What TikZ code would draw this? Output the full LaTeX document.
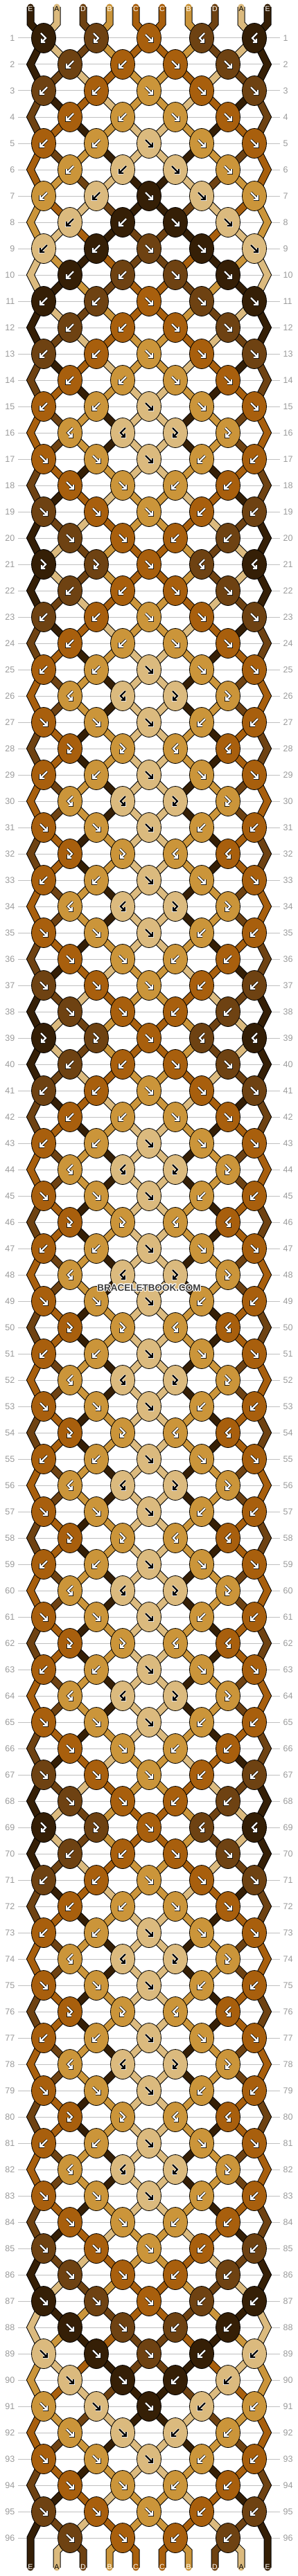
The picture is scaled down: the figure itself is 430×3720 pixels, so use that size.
\documentclass[tikz,border=0pt]{standalone}
\usepackage{fontspec}
\newfontfamily\labelfont{Liberation Sans}
\usepackage[copies]{contour}
\usetikzlibrary{shapes.geometric}

\pgfdeclarelayer{grid}
\pgfdeclarelayer{strands}
\pgfdeclarelayer{marks}
\pgfsetlayers{grid,strands,main,marks}

\definecolor{colA}{HTML}{DBBA7E}
\definecolor{colB}{HTML}{CB953A}
\definecolor{colC}{HTML}{A85F0D}
\definecolor{colD}{HTML}{6E4212}
\definecolor{colE}{HTML}{351F06}
\definecolor{rulegray}{HTML}{C0C0C0}
\definecolor{numgray}{HTML}{9A9A9A}
\definecolor{wmgray}{HTML}{3C3C3C}
\colorlet{labA}{black}\colorlet{outA}{white}
\colorlet{labB}{white}\colorlet{outB}{black}
\colorlet{labC}{white}\colorlet{outC}{black}
\colorlet{labD}{white}\colorlet{outD}{black}
\colorlet{labE}{white}\colorlet{outE}{black}
\contourlength{1pt}

\tikzset{
  knot/.style = {ellipse, draw=black, line width=0.8pt, inner sep=0pt,
    minimum width=35pt, minimum height=43pt},
  strand/.style = {line width=9pt, line cap=round, line join=miter,
    preaction={draw=black, line width=11pt}},
  knotarrow/.style 2 args = {draw=#1, line width=2.2pt, line join=miter,
    preaction={draw=#2, line width=3.8pt}},
  rowline/.style = {draw=rulegray, line width=1pt},
  rownum/.style = {text=numgray, inner sep=0pt,
    font=\labelfont\fontsize{12.5}{15}\selectfont},
  endlabel/.style = {inner sep=0pt, font=\labelfont\fontsize{10.5}{12}\selectfont},
  watermark/.style = {text=wmgray, inner sep=0pt,
    font=\labelfont\bfseries\fontsize{13.5}{16}\selectfont}
}

% knot rows: f, b, fb, bf
\def\rowP{fb,fb,f,bf,bf}
\def\rowQ{b,b,f,f}
\def\rowR{b,b,f,f,f}
\def\rowS{bf,bf,fb,fb}
\def\rowT{f,f,f,b,b}
\def\rowU{f,f,b,b}
\def\rowV{fb,fb,bf,bf}

\newcommand\knotswap{%
  \expandafter\xdef\csname new\lft\endcsname{\cright}%
  \expandafter\xdef\csname new\rgt\endcsname{\cleft}}
\newcommand\kntf{\let\kc\cleft\knotswap
  \def\glyph{(-5,-5) -- (5,5) (-1,5) -- (5,5) -- (5,-1)}}
\newcommand\kntb{\let\kc\cright\knotswap
  \def\glyph{(5,-5) -- (-5,5) (1,5) -- (-5,5) -- (-5,-1)}}
\newcommand\kntfb{\let\kc\cleft
  \def\glyph{(-4,-7) -- (3,0) -- (-3,6) (2,6) -- (-3,6) -- (-3,1)}}
\newcommand\kntbf{\let\kc\cright
  \def\glyph{(4,-7) -- (-3,0) -- (3,6) (-2,6) -- (3,6) -- (3,1)}}

% name of the point where string position #3 sits in row #2
\newcommand\setpt[3]{%
  \pgfmathtruncatemacro\ptodd{mod(#2,2)}%
  \ifnum\ptodd=1
    \pgfmathtruncatemacro\ptj{(#3+1)/2}\edef#1{k-#2-\ptj}%
  \else
    \ifnum#3=1 \edef#1{e-#2-1}%
    \else\ifnum#3=10 \edef#1{e-#2-10}%
    \else\pgfmathtruncatemacro\ptj{#3/2}\edef#1{k-#2-\ptj}%
    \fi\fi
  \fi}

\begin{document}
\begin{tikzpicture}[x=1pt, y=-1pt]
\useasboundingbox (0,0) rectangle (430,3720);

\foreach \s [count=\q] in {E,A,D,B,C,C,B,D,A,E}{
  \expandafter\xdef\csname pos\q\endcsname{\s}
  \pgfmathsetmacro{\xx}{44+38*(\q-1)}
  \coordinate (t-\q) at (\xx,10);
  \coordinate (tb-\q) at (\xx,34);
  \coordinate (bb-\q) at (\xx,3684);
  \coordinate (b-\q) at (\xx,3708);
  \node[endlabel, text=lab\s] (lt-\q) at (\xx,12.5) {\s};
  \node[endlabel, text=lab\s] (lb-\q) at (\xx,3707) {\s};
}

\foreach \rt [count=\rw] in {P,Q,R,Q,R,Q,R,Q,R,Q,R,Q,R,Q,R, % 1-15
    S,T,U,T,U, P,Q,R,Q,R,                                    % 16-25
    S,T,V,R,S,T,V,R,S, T,U,T,U, P,Q,R,Q,R,                   % 26-43
    S,T,V,R,S,T,V,R,S,T,V,R,S,T,V,R,S,T,V,R,S,               % 44-64
    T,U,T,U, P,Q,R,Q,R, S,T,V,R,S,T,V,R,S,                   % 65-82
    T,U,T,U,T,U,T,U,T,U,T,U,T,U}{                            % 83-96
  \pgfmathtruncatemacro{\odd}{mod(\rw,2)}
  \pgfmathsetmacro{\yy}{55+38*(\rw-1)}
  \begin{pgfonlayer}{grid}
    \draw[rowline] (26,\yy) -- (404,\yy);
  \end{pgfonlayer}
  \node[rownum, anchor=east] (nl-\rw) at (21.5,\yy) {\rw};
  \node[rownum, anchor=west] (nr-\rw) at (408.5,\yy) {\rw};
  \ifnum\odd=0
    \coordinate (e-\rw-1) at (44,\yy);
    \coordinate (e-\rw-10) at (386,\yy);
  \fi
  \foreach \q in {1,...,10}{\expandafter\xdef\csname new\q\endcsname{\csname pos\q\endcsname}}
  \edef\codes{\csname row\rt\endcsname}
  \foreach \code [count=\j] in \codes {
    \pgfmathtruncatemacro{\lft}{\odd==1 ? 2*\j-1 : 2*\j}
    \pgfmathtruncatemacro{\rgt}{\lft+1}
    \pgfmathsetmacro{\xx}{\odd==1 ? 63+76*(\j-1) : 101+76*(\j-1)}
    \edef\cleft{\csname pos\lft\endcsname}
    \edef\cright{\csname pos\rgt\endcsname}
    \csname knt\code\endcsname
    \node[knot, fill=col\kc] (k-\rw-\j) at (\xx,\yy) {};
    \draw[knotarrow={lab\kc}{out\kc}, shift={(\xx,\yy)}] \glyph;
  }
  \begin{pgfonlayer}{strands}
  \foreach \q in {1,...,10}{
    \edef\scol{\csname pos\q\endcsname}
    \setpt\ptB{\rw}{\q}
    \pgfmathtruncatemacro{\isedge}{(\q==1 || \q==10) ? 1 : 0}
    \ifnum\rw=1
      \draw[strand, col\scol] (t-\q) -- (tb-\q) -- (\ptB.center);
    \else
      \ifnum\isedge=1
        \ifnum\odd=1
          \pgfmathtruncatemacro{\rp}{\rw-1}
          \pgfmathtruncatemacro{\rpp}{\rw-2}
          \setpt\ptA{\rpp}{\q}
          \draw[strand, col\scol] (\ptA.center) -- (e-\rp-\q) -- (\ptB.center);
        \fi
      \else
        \pgfmathtruncatemacro{\rp}{\rw-1}
        \setpt\ptA{\rp}{\q}
        \draw[strand, col\scol] (\ptA.center) -- (\ptB.center);
      \fi
    \fi
  }
  \end{pgfonlayer}
  \foreach \q in {1,...,10}{\expandafter\xdef\csname pos\q\endcsname{\csname new\q\endcsname}}
}

\begin{pgfonlayer}{strands}
\foreach \q in {1,...,10}{
  \edef\scol{\csname pos\q\endcsname}
  \pgfmathtruncatemacro{\isedge}{(\q==1 || \q==10) ? 1 : 0}
  \ifnum\isedge=1
    \setpt\ptA{95}{\q}
    \draw[strand, col\scol] (\ptA.center) -- (e-96-\q) -- (b-\q);
  \else
    \setpt\ptA{96}{\q}
    \draw[strand, col\scol] (\ptA.center) -- (bb-\q) -- (b-\q);
  \fi
}
\end{pgfonlayer}

\begin{pgfonlayer}{marks}
\node[watermark] (wm) at (215,1860) {\contour{white}{BRACELETBOOK.COM}};
\end{pgfonlayer}
\end{tikzpicture}
\end{document}
